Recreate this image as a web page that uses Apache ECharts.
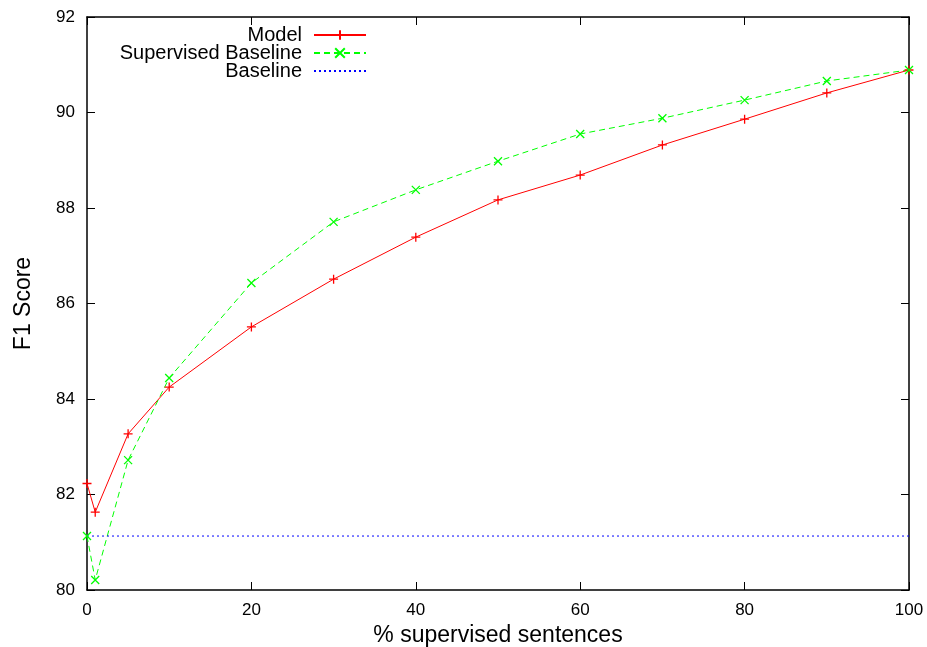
<!DOCTYPE html>
<html lang="en">
<head>
    <meta charset="UTF-8">
    <title>F1 Score</title>
    <script src="https://cdn.jsdelivr.net/npm/echarts@6/dist/echarts.min.js"></script>
    <style>
        *{margin:0;padding:0;}
        html,body{width:100%;height:100%;overflow:hidden;background:#fff;}
        .container{width:927px;height:647px;}
    </style>
</head>
<body>
<div class="container"></div>
<script>
    // % supervised sentences
    let percents=[0,1,5,10,20,30,40,50,60,70,80,90,100];
    let modelScores=[82.23,81.63,83.27,84.25,85.51,86.51,87.39,88.17,88.69,89.32,89.86,90.41,90.89];
    let supervisedScores=[81.13,80.21,82.72,84.44,86.43,87.71,88.38,88.98,89.55,89.88,90.26,90.66,90.89];
    let baselineScore=81.13;
    let xRange=[0,100];

    let font='"Liberation Sans", Arial, sans-serif';
    let plus='path://M0,5L10,5M5,0L5,10';
    let cross='path://M0,0L10,10M0,10L10,0';

    let container=document.querySelector('.container');
    let mycharts=echarts.init(container);

    // fresh copy for each axis; onZero off so the mirror axes stay on their own side
    function frame(extra){
        return Object.assign({
            axisLine:{show:true,onZero:false,lineStyle:{color:'#000',width:1.5}},
            axisTick:{show:true,inside:true,length:8,lineStyle:{color:'#000',width:1}},
            splitLine:{show:false}
        },extra);
    }

    let options={
        animation:false,
        grid:{left:87,right:18,top:17,bottom:57,outerBoundsMode:'none',containLabel:false},
        legend:{
            orient:'vertical',
            right:560,
            top:25,
            padding:0,
            align:'right',
            itemWidth:52,
            itemHeight:12,
            itemGap:-2,
            selectedMode:false,
            textStyle:{fontFamily:font,fontSize:20,lineHeight:18,color:'#000',padding:[0,7,0,0]},
            data:['Model','Supervised Baseline',{name:'Baseline',itemStyle:{opacity:0}}]
        },
        xAxis:[
            frame({
                type:'value',min:0,max:100,interval:20,position:'bottom',
                name:'% supervised sentences',nameLocation:'middle',nameGap:31,
                nameTextStyle:{fontFamily:font,fontSize:23,color:'#000'},
                axisLabel:{fontFamily:font,fontSize:17,color:'#000',margin:12}
            }),
            frame({
                type:'value',min:0,max:100,interval:20,position:'top',
                axisLabel:{show:false}
            })
        ],
        yAxis:[
            frame({
                type:'value',min:80,max:92,interval:2,position:'left',
                name:'F1 Score',nameLocation:'middle',nameGap:52,
                nameTextStyle:{fontFamily:font,fontSize:23,color:'#000'},
                axisLabel:{fontFamily:font,fontSize:17,color:'#000',margin:12}
            }),
            frame({
                type:'value',min:80,max:92,interval:2,position:'right',
                axisLabel:{show:false}
            })
        ],
        series:[
            {
                name:'Model',type:'line',
                data:percents.map((p,i)=>[p,modelScores[i]]),
                symbol:plus,symbolSize:9,showSymbol:true,
                lineStyle:{color:'#ff0000',width:1},
                itemStyle:{color:'#ff0000',borderColor:'#ff0000',borderWidth:1.3}
            },
            {
                name:'Supervised Baseline',type:'line',
                data:percents.map((p,i)=>[p,supervisedScores[i]]),
                symbol:cross,symbolSize:8,showSymbol:true,
                lineStyle:{color:'#00ff00',width:1,type:[6,4]},
                itemStyle:{color:'#00ff00',borderColor:'#00ff00',borderWidth:1.3}
            },
            {
                name:'Baseline',type:'line',
                data:xRange.map(p=>[p,baselineScore]),
                symbol:'none',
                lineStyle:{color:'#0000ff',width:1,type:[2,3]},
                itemStyle:{color:'#0000ff'}
            }
        ]
    };

    mycharts.setOption(options);
</script>
</body>
</html>
